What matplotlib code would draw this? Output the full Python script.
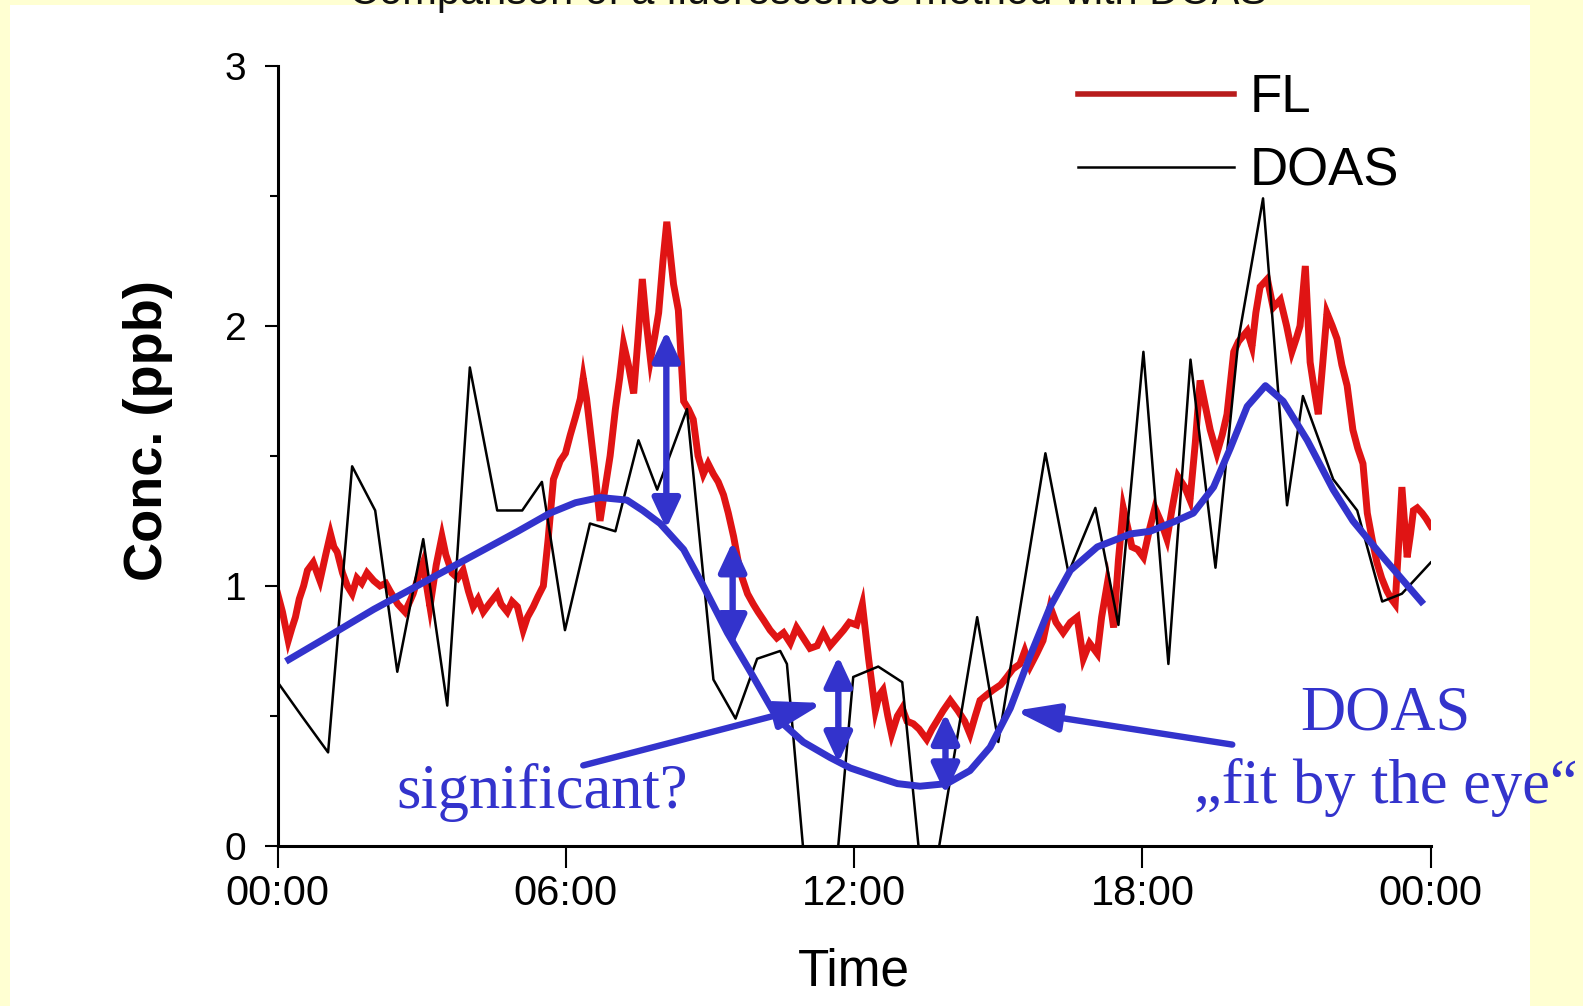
import matplotlib
matplotlib.use("Agg")
import matplotlib.pyplot as plt
from matplotlib.patches import Rectangle
from matplotlib.lines import Line2D

plt.rcParams['font.family'] = ['Liberation Sans', 'DejaVu Sans']

# FL (fluorescence) trace, hours / ppb
fl_hours = [0.0, 0.1, 0.22, 0.3, 0.37, 0.45, 0.54, 0.62, 0.74, 0.82, 0.88, 1.0, 1.1, 1.17, 1.24,
            1.35, 1.45, 1.55, 1.65, 1.75, 1.86, 2.0, 2.13, 2.25, 2.34, 2.5, 2.65, 2.75, 2.82, 2.92,
            3.03, 3.1, 3.17, 3.3, 3.42, 3.5, 3.63, 3.75, 3.86, 3.97, 4.07, 4.17, 4.28, 4.4, 4.57,
            4.65, 4.78, 4.88, 4.99, 5.11, 5.2, 5.32, 5.42, 5.53, 5.63, 5.74, 5.88, 5.99, 6.09, 6.2,
            6.3, 6.36, 6.43, 6.5, 6.6, 6.71, 6.82, 6.92, 7.03, 7.12, 7.2, 7.3, 7.41, 7.5, 7.59,
            7.68, 7.76, 7.85, 7.93, 8.02, 8.1, 8.17, 8.24, 8.34, 8.45, 8.55, 8.65, 8.75, 8.86, 8.96,
            9.07, 9.17, 9.28, 9.38, 9.49, 9.58, 9.67, 9.78, 9.9, 10.0, 10.11, 10.25, 10.39, 10.53,
            10.67, 10.8, 10.94, 11.08, 11.23, 11.36, 11.5, 11.64, 11.78, 11.9, 12.05, 12.17, 12.3,
            12.44, 12.52, 12.6, 12.7, 12.78, 12.9, 13.0, 13.1, 13.23, 13.35, 13.51, 13.62, 13.72,
            13.85, 14.0, 14.16, 14.3, 14.41, 14.52, 14.62, 14.75, 14.89, 15.05, 15.18, 15.3, 15.45,
            15.55, 15.66, 15.8, 15.93, 16.08, 16.2, 16.35, 16.5, 16.64, 16.77, 16.9, 17.06, 17.15,
            17.27, 17.4, 17.5, 17.6, 17.7, 17.78, 17.9, 18.02, 18.15, 18.26, 18.4, 18.51, 18.62,
            18.74, 18.88, 18.99, 19.1, 19.2, 19.3, 19.41, 19.55, 19.66, 19.76, 19.9, 20.0, 20.09,
            20.18, 20.28, 20.36, 20.45, 20.6, 20.72, 20.87, 21.0, 21.11, 21.2, 21.28, 21.39, 21.49,
            21.58, 21.66, 21.75, 21.84, 21.95, 22.05, 22.15, 22.26, 22.38, 22.48, 22.59, 22.68,
            22.78, 22.88, 22.98, 23.09, 23.18, 23.26, 23.33, 23.4, 23.51, 23.58, 23.64, 23.72,
            23.82, 23.9, 24.0]
fl_ppb = [0.97, 0.90, 0.79, 0.84, 0.88, 0.95, 1.0, 1.06, 1.09, 1.05, 1.02, 1.12, 1.2, 1.15, 1.13,
          1.05, 1.0, 0.97, 1.03, 1.01, 1.05, 1.02, 1.0, 1.01, 0.98, 0.93, 0.90, 0.94, 0.97, 1.03,
          1.09, 1.0, 0.92, 1.08, 1.19, 1.12, 1.05, 1.03, 1.06, 0.98, 0.92, 0.95, 0.90, 0.93, 0.97,
          0.93, 0.90, 0.94, 0.92, 0.83, 0.88, 0.92, 0.96, 1.0, 1.18, 1.41, 1.48, 1.51, 1.58, 1.65,
          1.72, 1.80, 1.72, 1.61, 1.45, 1.25, 1.38, 1.50, 1.68, 1.80, 1.93, 1.85, 1.74, 1.95, 2.18,
          2.0, 1.87, 1.96, 2.05, 2.25, 2.40, 2.28, 2.16, 2.06, 1.71, 1.68, 1.64, 1.50, 1.43, 1.47,
          1.43, 1.40, 1.35, 1.28, 1.19, 1.10, 1.03, 0.97, 0.93, 0.90, 0.87, 0.83, 0.80, 0.82,
          0.78, 0.84, 0.80, 0.76, 0.77, 0.82, 0.77, 0.80, 0.83, 0.86, 0.85, 0.93, 0.72,
          0.52, 0.58, 0.60, 0.50, 0.43, 0.50, 0.53, 0.48, 0.47, 0.45, 0.41, 0.45, 0.48,
          0.52, 0.56, 0.52, 0.48, 0.43, 0.50, 0.56, 0.58, 0.60, 0.62, 0.65, 0.68, 0.70,
          0.75, 0.69, 0.74, 0.79, 0.92, 0.86, 0.82, 0.86, 0.88, 0.72, 0.78, 0.74, 0.88,
          1.01, 0.84, 1.10, 1.30, 1.22, 1.15, 1.14, 1.11, 1.22, 1.30, 1.24, 1.18, 1.30,
          1.42, 1.38, 1.33, 1.55, 1.79, 1.70, 1.60, 1.51, 1.58, 1.66, 1.90, 1.94, 1.96,
          1.98, 1.92, 2.05, 2.15, 2.18, 2.07, 2.10, 2.0, 1.90, 1.95, 2.00, 2.23, 1.86,
          1.75, 1.66, 1.85, 2.05, 2.0, 1.95, 1.85, 1.77, 1.60, 1.53, 1.47, 1.28,
          1.18, 1.09, 1.03, 0.98, 0.95, 0.93, 1.15, 1.38, 1.11, 1.20, 1.29, 1.30,
          1.28, 1.26, 1.23]

# DOAS trace (negative values are cut off at the axis)
doas_hours = [0.0, 0.5, 1.05, 1.55, 2.03, 2.49, 3.03, 3.53, 4.0, 4.57, 5.09, 5.5, 5.98, 6.5, 7.03,
              7.51, 7.9, 8.52, 9.07, 9.53, 9.98, 10.46, 10.6, 11.1, 11.5, 11.98, 12.5, 13.0, 13.5,
              14.56, 15.0, 15.98, 16.46, 17.02, 17.5, 18.02, 18.54, 19.0, 19.52, 20.0, 20.51,
              21.01, 21.34, 21.97, 22.47, 22.99, 23.4, 24.0]
doas_ppb = [0.63, 0.50, 0.36, 1.46, 1.29, 0.67, 1.18, 0.54, 1.84, 1.29, 1.29, 1.40, 0.83, 1.24, 1.21,
            1.56, 1.37, 1.68, 0.64, 0.49, 0.72, 0.75, 0.70, -0.35, -0.35, 0.65, 0.69, 0.63, -0.3,
            0.88, 0.40, 1.51, 1.05, 1.30, 0.85, 1.90, 0.70, 1.87, 1.07, 1.95, 2.49,
            1.31, 1.73, 1.41, 1.29, 0.94, 0.97, 1.09]

# hand-drawn DOAS "fit by the eye"
fit_hours = [0.17, 1.0, 2.0, 3.0, 4.0, 5.0, 5.67, 6.2, 6.71, 7.27, 7.6, 7.96, 8.45, 8.86, 9.36,
             9.84, 10.4, 10.94, 11.5, 11.92, 12.4, 12.9, 13.37, 13.93, 14.41, 14.83, 15.25, 15.66,
             16.08, 16.5, 17.06, 17.75, 18.16, 18.7, 19.06, 19.48, 19.83, 20.18, 20.56, 20.93,
             21.43, 21.97, 22.38, 23.01, 23.85]
fit_ppb = [0.71, 0.80, 0.91, 1.01, 1.11, 1.21, 1.28, 1.32, 1.34, 1.33, 1.29, 1.24, 1.14, 1.00, 0.82,
           0.67, 0.49, 0.40, 0.34, 0.30, 0.27, 0.24, 0.23, 0.24, 0.29, 0.38, 0.53, 0.73,
           0.92, 1.06, 1.15, 1.20, 1.21, 1.25, 1.28, 1.38, 1.53, 1.69, 1.77, 1.71,
           1.56, 1.37, 1.25, 1.11, 0.93]

# double arrows: hour, top, bottom
gap_hours = [8.09, 9.47, 11.67, 13.9]
gap_top = [1.98, 1.17, 0.73, 0.51]
gap_bottom = [1.22, 0.77, 0.32, 0.20]

xtick_pos = [0, 6, 12, 18, 24]
xtick_labels = ['00:00', '06:00', '12:00', '18:00', '00:00']
ytick_pos = [0, 1, 2, 3]

blue = '#3333CC'
red = '#E01414'

fig = plt.figure(figsize=(15.83, 10.06), dpi=100, facecolor='#FFFFD2')
fig.patches.append(Rectangle((10 / 1583, 0), 1520 / 1583, 1 - 5 / 1006,
                             transform=fig.transFigure, facecolor='white',
                             edgecolor='none', zorder=-10))
fig.text(808 / 1583, 1 - 4 / 1006, 'Comparison of a fluorescence method with DOAS',
         ha='center', va='baseline', fontsize=30, color='#111111')

ax = fig.add_axes([0.1754, 0.1590, 0.7284, 0.7757])
ax.set_facecolor('none')

ax.plot(fl_hours, fl_ppb, color=red, lw=5.0, zorder=2, solid_joinstyle='miter')
ax.plot(doas_hours, doas_ppb, color='black', lw=1.8, zorder=3)
ax.plot(fit_hours, fit_ppb, color=blue, lw=5.0, zorder=4, solid_capstyle='butt')

for h, t, b in zip(gap_hours, gap_top, gap_bottom):
    ax.annotate('', xy=(h, t), xytext=(h, b),
                arrowprops=dict(arrowstyle='<|-|>,head_length=0.9,head_width=0.42',
                                mutation_scale=20, lw=4.6, color=blue,
                                shrinkA=0, shrinkB=0), zorder=5)

ax.annotate('', xy=(11.36, 0.55), xytext=(6.36, 0.31),
            arrowprops=dict(arrowstyle='-|>,head_length=1.4,head_width=0.42',
                            mutation_scale=20, lw=4.6, color=blue,
                            shrinkA=0, shrinkB=0), zorder=5)
ax.annotate('', xy=(15.35, 0.52), xytext=(19.87, 0.39),
            arrowprops=dict(arrowstyle='-|>,head_length=1.3,head_width=0.42',
                            mutation_scale=20, lw=4.6, color=blue,
                            shrinkA=0, shrinkB=0), zorder=5)

serif = ['Liberation Serif', 'DejaVu Serif']
fig.text(542 / 1583, 1 - 808 / 1006, 'significant?', ha='center', va='baseline',
         fontsize=45, color=blue, family=serif)
fig.text(1385 / 1583, 1 - 729 / 1006, 'DOAS', ha='center', va='baseline',
         fontsize=45, color=blue, family=serif)
fig.text(1386 / 1583, 1 - 803 / 1006, '\u201efit by the eye\u201c', ha='center', va='baseline',
         fontsize=45, color=blue, family=serif)

ax.set_xlim(0, 24)
ax.set_ylim(0, 3)
ax.set_xticks(xtick_pos)
ax.set_xticklabels(xtick_labels)
ax.set_yticks(ytick_pos)
ax.set_yticks([0.5, 1.5, 2.5], minor=True)
ax.tick_params(axis='x', length=16, width=1.5, pad=4, labelsize=30)
ax.tick_params(axis='y', which='major', length=9.5, width=1.5, pad=13, labelsize=28)
ax.tick_params(axis='y', which='minor', length=5.5, width=1.5)
for side in ['top', 'right']:
    ax.spines[side].set_visible(False)
for side in ['left', 'bottom']:
    ax.spines[side].set_linewidth(2.2)

ax.set_xlabel('Time', fontsize=37, labelpad=24)
ax.set_ylabel('Conc. (ppb)', fontsize=39, fontweight='bold')
ax.yaxis.set_label_coords(-0.091, 0.532)

handles = [Line2D([], [], color='#B81C1C', lw=4.0), Line2D([], [], color='black', lw=1.8)]
ax.legend(handles, ['FL', 'DOAS'], loc='upper left', bbox_to_anchor=(1078 / 1583, 1 - 73 / 1006),
          bbox_transform=fig.transFigure, frameon=False, fontsize=38, handlelength=2.95,
          handletextpad=0.3, labelspacing=0.45, borderpad=0, borderaxespad=0)

fig.savefig('out.png', dpi=100, facecolor=fig.get_facecolor())
